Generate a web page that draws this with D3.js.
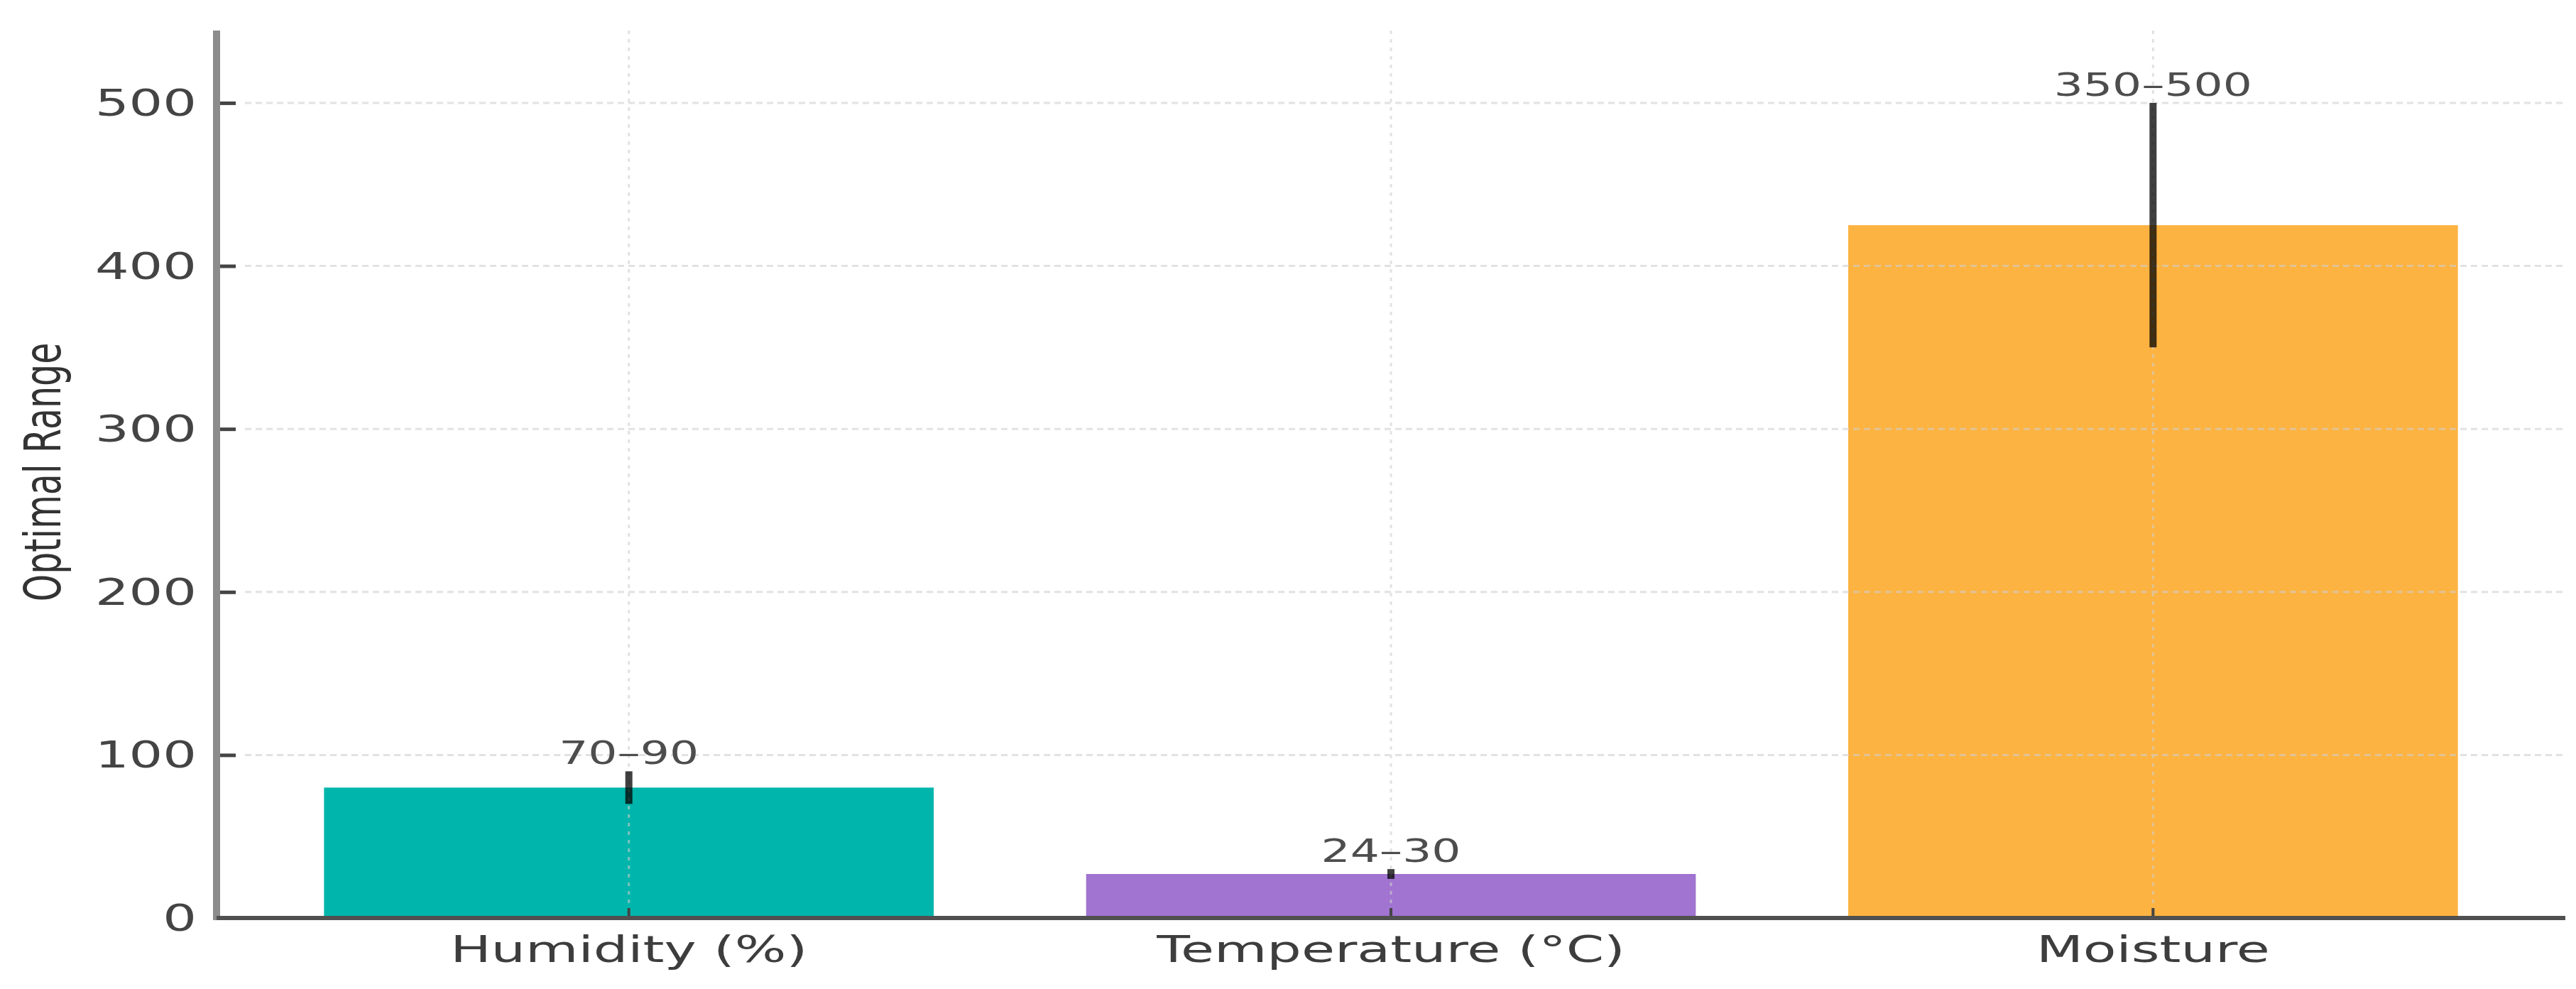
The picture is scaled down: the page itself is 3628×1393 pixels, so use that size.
<!DOCTYPE html>
<html>
<head>
<meta charset="utf-8">
<script src="https://cdn.jsdelivr.net/npm/d3@7"></script>
<style>
  html, body { margin: 0; padding: 0; background: #ffffff; }
  svg { display: block; }
  text { font-family: "DejaVu Sans", sans-serif; }
</style>
</head>
<body>
<div id="chart"></div>
<script>
// ---- data ----
const categories = ["Humidity (%)", "Temperature (°C)", "Moisture"];
const midValues = [80, 27, 425];
const lowValues = [70, 24, 350];
const highValues = [90, 30, 500];
const rangeLabels = ["70–90", "24–30", "350–500"];
const barColors = ["#00b5ab", "#a074d0", "#fdb341"];
const yTicks = [0, 100, 200, 300, 400, 500];
const yLabel = "Optimal Range";

// ---- layout ----
const W = 3628, H = 1393;
const mLeft = 305, mRight = 3613, mTop = 43, mBottom = 1293;
const SX = 1.47; // horizontal text stretch of the reference

const svg = d3.select("#chart").append("svg")
  .attr("width", W).attr("height", H);

const x = d3.scaleBand().domain(categories).range([mLeft, mRight])
  .paddingInner(0.2).paddingOuter(0.141);
const y = d3.scaleLinear().domain([0, 544.4]).range([mBottom, mTop]);

const data = categories.map((c, i) => ({
  c, v: midValues[i], lo: lowValues[i], hi: highValues[i], lab: rangeLabels[i], col: barColors[i]
}));

// bars
svg.append("g").selectAll("rect").data(data).join("rect")
  .attr("x", d => x(d.c))
  .attr("width", x.bandwidth())
  .attr("y", d => y(d.v))
  .attr("height", d => y(0) - y(d.v))
  .attr("fill", d => d.col);

// grid (drawn on top, semi-transparent)
const grid = svg.append("g").attr("opacity", 0.6);
grid.selectAll("line.h").data(yTicks.filter(t => t > 0)).join("line")
  .attr("class", "h")
  .attr("x1", mLeft + 40).attr("x2", mRight)
  .attr("y1", d => y(d)).attr("y2", d => y(d))
  .attr("stroke", "#cfcfcf").attr("stroke-width", 3)
  .attr("stroke-dasharray", "9,6");
grid.selectAll("line.v").data(categories).join("line")
  .attr("class", "v")
  .attr("x1", d => x(d) + x.bandwidth() / 2).attr("x2", d => x(d) + x.bandwidth() / 2)
  .attr("y1", mTop).attr("y2", mBottom)
  .attr("stroke", "#cfcfcf").attr("stroke-width", 3)
  .attr("stroke-dasharray", "5,7");

// error bars
svg.append("g").selectAll("line").data(data).join("line")
  .attr("x1", d => x(d.c) + x.bandwidth() / 2)
  .attr("x2", d => x(d.c) + x.bandwidth() / 2)
  .attr("y1", d => y(d.lo)).attr("y2", d => y(d.hi))
  .attr("stroke", "#000").attr("stroke-opacity", 0.75)
  .attr("stroke-width", 10);

// range labels
svg.append("g").selectAll("g").data(data).join("g")
  .attr("transform", d => `translate(${x(d.c) + x.bandwidth() / 2},${y(d.hi) - 10}) scale(${SX},1)`)
  .append("text")
  .attr("text-anchor", "middle")
  .attr("font-size", 44)
  .attr("fill", "#4d4d4d")
  .text(d => d.lab);

// y axis (d3 axis, restyled)
const yAxis = svg.append("g").attr("transform", `translate(${mLeft},0)`)
  .call(d3.axisRight(y).tickValues(yTicks).tickSize(27).tickFormat(""));
yAxis.select(".domain").remove();
yAxis.selectAll(".tick line").attr("stroke", "#444").attr("stroke-width", 5);
yAxis.selectAll(".tick").filter(d => d === 0).select("line").remove();

// y tick labels
svg.append("g").selectAll("g").data(yTicks).join("g")
  .attr("transform", d => `translate(277,${y(d) + 18}) scale(${SX},1)`)
  .append("text")
  .attr("text-anchor", "end")
  .attr("font-size", 51)
  .attr("fill", "#444")
  .text(d => d);

// x axis ticks
const xAxis = svg.append("g").attr("transform", `translate(0,${mBottom})`)
  .call(d3.axisTop(x).tickSize(14).tickFormat(""));
xAxis.select(".domain").remove();
xAxis.selectAll(".tick line").attr("stroke", "#444").attr("stroke-width", 4);

// x category labels
svg.append("g").selectAll("g").data(categories).join("g")
  .attr("transform", d => `translate(${x(d) + x.bandwidth() / 2},1355) scale(${SX},1)`)
  .append("text")
  .attr("text-anchor", "middle")
  .attr("font-size", 52)
  .attr("fill", "#3d3d3d")
  .text(d => d);

// spines
svg.append("line").attr("x1", mLeft).attr("x2", mLeft).attr("y1", mTop).attr("y2", mBottom + 3)
  .attr("stroke", "#8c8c8c").attr("stroke-width", 10);
svg.append("line").attr("x1", mLeft).attr("x2", mRight).attr("y1", mBottom).attr("y2", mBottom)
  .attr("stroke", "#505050").attr("stroke-width", 6);

// y axis label
svg.append("g")
  .attr("transform", `translate(66,665) scale(${SX},1) rotate(-90)`)
  .append("text")
  .attr("text-anchor", "middle")
  .attr("dy", "0.26em")
  .attr("font-size", 49)
  .attr("fill", "#333")
  .text(yLabel);
</script>
</body>
</html>
